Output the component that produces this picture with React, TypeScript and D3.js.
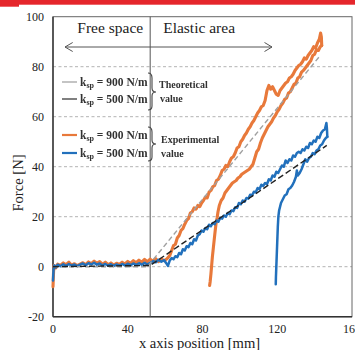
import React from "react";
import * as d3 from "d3";

const xTicks = [0, 40, 80, 120, 160];
const yTicks = [-20, 0, 20, 40, 60, 80, 100];
const gridValues = [0, 20, 40, 60, 80];
const dividerX = 52;

const theory900: [number, number][] = [[0, 0], [50.5, 0], [142.5, 84]];
const theory500: [number, number][] = [[0, 0], [52, 0.5], [146.5, 48.5]];

const orangeLoad: [number, number][] = [
  [0, -8], [0.3, -2], [0.6, 0.5], [1.5, -0.5], [2.5, 1], [4, 0.5], [5.5, 1.5], [7, 0.8], [8.5, 1.8], [10, 0.6],
  [11.5, 1.2], [13, 0.4], [14.5, 1.0], [16, 1.6], [17.5, 0.8], [19, 1.9], [20.5, 1.2], [22, 2.2], [23.5, 1.4], [25, 2.0],
  [26.5, 1.0], [28, 1.8], [29.5, 0.8], [31, 1.5], [32.5, 0.7], [34, 1.4], [35.5, 0.9], [37, 1.8], [38.5, 1.1], [40, 2.1],
  [41.5, 1.3], [43, 2.4], [44.5, 1.6], [46, 2.6], [47.5, 1.8], [49, 2.9], [50.5, 2.0], [52, 3.0], [53.5, 2.2], [55, 3.2],
  [56.5, 2.0], [58, 3.0], [59.5, 2.4], [61, 3.2], [62.5, 4.5], [63.5, 6.5], [64.5, 8.5], [65.5, 9.0], [66.5, 11.5], [67.5, 12.5],
  [68.5, 14.5], [69.5, 15.2], [70.5, 17.0], [71.5, 18.5], [72.5, 19.2], [73.5, 21.5], [74.5, 22.0], [75.5, 23.5], [76.5, 23.0], [77.5, 24.5],
  [78.5, 24.0], [79.5, 25.5], [80.5, 26.5], [81.5, 27.8], [82.5, 27.5], [83.5, 29.8], [84.5, 30.5], [85.5, 32.0], [86.5, 32.5], [87.5, 34.5],
  [88.5, 35.0], [89.5, 36.5], [90.5, 38.5], [91.5, 39.0], [92.5, 40.5], [93.5, 40.0], [94.5, 42.0], [95.5, 43.5], [96.5, 44.0], [97.5, 45.5],
  [98.5, 47.5], [99.5, 48.0], [100.5, 50.0], [101.5, 51.0], [102.5, 52.5], [103.5, 53.5], [104.5, 55.0], [105.5, 56.0], [106.5, 57.5], [107.5, 58.5],
  [108.5, 60.0], [109.5, 61.5], [110.5, 62.5], [111.5, 64.0], [112.5, 64.5], [113.5, 66.5], [114.5, 70.5], [115.5, 72.5], [116.5, 71.0], [117.5, 72.0],
  [118.5, 70.5], [119.5, 69.0], [120.5, 68.5], [121.5, 70.5], [122.5, 71.5], [123.5, 72.5], [124.5, 73.5], [125.5, 74.0], [126.5, 75.5], [127.5, 76.0],
  [128.5, 77.0], [129.5, 78.5], [130.5, 79.5], [131.5, 80.5], [132.5, 81.0], [133.5, 82.0], [134.5, 83.5], [135.5, 83.0], [136.5, 84.5], [137.5, 85.5],
  [138.5, 86.5], [139.5, 88.0], [140.5, 87.5], [141.5, 89.5], [142.5, 91.0], [143.2, 93.5], [143.6, 92.0], [143.8, 88.5],
];

const orangeUnload: [number, number][] = [
  [143.8, 88.5], [143, 88], [142, 86.5], [141, 86.8], [140, 85], [139, 84.5], [138, 82.5], [137, 81.5], [136, 80.5], [135, 79.5],
  [134, 78.5], [133, 77.8], [132, 76], [131, 75.5], [130, 73.5], [129, 73], [128, 71.5], [127, 70], [126, 69.5], [125, 67.5],
  [124, 67], [123, 65.5], [122, 64.5], [121, 63], [120, 62], [119, 60.5], [118, 59.5], [117, 58], [116, 57], [115, 56],
  [114, 54.5], [113, 53], [112, 51.5], [111, 49.5], [110, 47], [109, 46], [108, 43.5], [107, 41], [106, 40], [105, 39],
  [104, 38.5], [103, 38], [102, 37.5], [101, 37], [100, 36], [99, 35.5], [98, 34.5], [97, 34], [96, 33.5], [95, 32.5],
  [94, 31.5], [93, 30.5], [92, 29.5], [91, 27.5], [90, 26.5], [89, 24.5], [88.3, 22], [87.8, 19.5], [87.2, 17], [86.8, 14.5],
  [86.3, 11], [85.8, 7.5], [85.3, 4], [84.9, 0.5], [84.5, -3], [84.1, -6], [83.8, -7.5],
];

const blueLoad: [number, number][] = [
  [0, -5.5], [0.3, -1], [0.7, 0.5], [1.5, -0.3], [2.5, 0.8], [4, 0.2], [5.5, 1.0], [7, 0.3], [8.5, 1.1], [10, 0.4],
  [11.5, 0.9], [13, 0.2], [14.5, 0.8], [16, 1.3], [17.5, 0.6], [19, 1.4], [20.5, 0.9], [22, 1.6], [23.5, 0.8], [25, 1.3],
  [26.5, 0.5], [28, 1.1], [29.5, 0.4], [31, 1.0], [32.5, 0.3], [34, 0.9], [35.5, 0.4], [37, 1.1], [38.5, 0.5], [40, 1.2],
  [41.5, 0.6], [43, 1.3], [44.5, 0.7], [46, 1.4], [47.5, 0.8], [49, 1.6], [50.5, 0.9], [52, 1.5], [53.5, 2.2], [55, 1.8],
  [56.5, 2.8], [58, 2.0], [59.5, 2.6], [60.5, 1.5], [61.5, 0.3], [62.5, 2.5], [63.5, 3.5], [64.5, 3.0], [65.5, 4.2], [66.5, 3.8],
  [67.5, 5.5], [68.5, 5.0], [69.5, 7.0], [70.5, 6.5], [71.5, 8.2], [72.5, 7.8], [73.5, 9.5], [74.5, 9.0], [75.5, 11.0], [76.5, 10.5],
  [77.5, 12.5], [78.5, 13.0], [79.5, 14.5], [80.5, 14.0], [81.5, 15.5], [82.5, 15.0], [83.5, 16.8], [84.5, 16.2], [85.5, 17.5], [86.5, 17.0],
  [87.5, 18.5], [88.5, 18.0], [89.5, 19.5], [90.5, 19.2], [91.5, 20.5], [92.5, 20.0], [93.5, 21.5], [94.5, 21.0], [95.5, 22.5], [96.5, 22.2],
  [97.5, 23.8], [98.5, 23.5], [99.5, 25.5], [100.5, 25.0], [101.5, 26.5], [102.5, 26.0], [103.5, 27.5], [104.5, 27.2], [105.5, 28.8], [106.5, 28.5],
  [107.5, 30.0], [108.5, 29.8], [109.5, 31.5], [110.5, 31.0], [111.5, 32.8], [112.5, 32.3], [113.5, 33.5], [114.5, 33.0], [115.5, 35.0], [116.5, 34.5],
  [117.5, 36.5], [118.5, 36.0], [119.5, 38.0], [120.5, 37.5], [121.5, 39.0], [122.5, 40.5], [123.5, 40.0], [124.5, 42.5], [125.5, 41.5], [126.5, 43.0],
  [127.5, 42.5], [128.5, 44.5], [129.5, 44.0], [130.5, 45.5], [131.5, 46.0], [132.5, 45.5], [133.5, 47.0], [134.5, 46.5], [135.5, 48.0], [136.5, 47.5],
  [137.5, 49.5], [138.5, 49.0], [139.5, 50.5], [140.5, 50.0], [141.5, 52.0], [142.5, 51.5], [143.5, 53.5], [144.5, 54.5], [145.5, 55.0], [146.3, 57.5],
  [146.6, 55.0], [146.8, 52.0],
];

const blueUnload: [number, number][] = [
  [146.8, 52], [146, 51.5], [145, 50.5], [144, 49], [143, 48.5], [142, 47], [141, 46.5], [140, 45], [139, 45.5], [138, 44],
  [137, 43.5], [136, 42], [135, 43], [134, 41], [133, 39], [132, 37.5], [131, 36.5], [130.5, 38.5], [130, 36], [129, 34],
  [128, 32.5], [127, 31.5], [126, 31], [125, 29], [124, 28.5], [123, 27], [122, 25.5], [121.5, 24], [121, 22.5], [120.6, 20],
  [120.3, 16], [120.1, 12], [119.9, 8], [119.7, 4], [119.5, 0], [119.3, -4], [119.2, -7],
];

const ORANGE = "#E8793A";
const BLUE = "#2070BC";
const SERIF = "'Liberation Serif', 'DejaVu Serif', serif";

export default function App() {
  const W = 355;
  const H = 350;
  const left = 53;
  const right = 352;
  const top = 16.7;
  const bottom = 316.7;

  const x = d3.scaleLinear().domain([0, 160]).range([left, right]);
  const y = d3.scaleLinear().domain([-20, 100]).range([bottom, top]);
  const line = d3.line<[number, number]>().x((d) => x(d[0])).y((d) => y(d[1]));

  const divX = x(dividerX);

  return (
    <svg width={W} height={H} style={{ position: "absolute", left: 0, top: 0 }} fontFamily={SERIF}>
      <defs>
        <filter id="blur" x="-10%" y="-10%" width="120%" height="120%">
          <feGaussianBlur stdDeviation="0.75" />
        </filter>
        <filter id="soft" x="-5%" y="-5%" width="110%" height="110%">
          <feGaussianBlur stdDeviation="0.35" />
        </filter>
      </defs>
      <rect x={0} y={0} width={W} height={H} fill="#fff" />
      {/* top red bar */}
      <rect x={0} y={0} width={W} height={4.7} fill="#E5262B" />
      <rect x={0} y={0} width={19} height={6.7} fill="#E5262B" />

      {/* gridlines */}
      {gridValues.map((v) => (
        <line key={v} x1={left} x2={right} y1={y(v)} y2={y(v)} stroke="#aaa" strokeWidth={0.9} strokeDasharray="3,2.5" />
      ))}

      {/* plot box */}
      <rect x={left} y={top} width={right - left} height={bottom - top} fill="none" stroke="#666" strokeWidth={1} />
      <line x1={left} x2={left} y1={top} y2={bottom} stroke="#333" strokeWidth={1.4} />
      <line x1={left} x2={right} y1={bottom} y2={bottom} stroke="#333" strokeWidth={1.4} />

      {/* divider */}
      <line x1={divX} x2={divX} y1={top} y2={bottom} stroke="#555" strokeWidth={1} />

      {/* region labels and arrow */}
      <text x={divX - 7} y={33} fontSize={15.5} textAnchor="end" fill="#222">Free space</text>
      <text x={divX + 13} y={33} fontSize={15.5} fill="#222">Elastic area</text>
      <line x1={65} x2={272} y1={47} y2={47} stroke="#555" strokeWidth={1} />
      <polyline points="72.7,42.5 65,47 72.7,51.5" fill="none" stroke="#555" strokeWidth={1} />
      <polyline points="264.5,42.5 272,47 264.5,51.5" fill="none" stroke="#555" strokeWidth={1} />

      {/* experimental curves */}
      <g filter="url(#soft)" strokeLinejoin="round" strokeLinecap="round" fill="none">
        <path d={line(orangeLoad) ?? ""} stroke={ORANGE} strokeWidth={3.1} />
        <path d={line(orangeUnload) ?? ""} stroke={ORANGE} strokeWidth={3.1} />
        <path d={line(blueLoad) ?? ""} stroke={BLUE} strokeWidth={2.5} />
        <path d={line(blueUnload) ?? ""} stroke={BLUE} strokeWidth={2.5} />
      </g>

      {/* theoretical lines */}
      <path d={line(theory900) ?? ""} fill="none" stroke="#a0a0a0" strokeWidth={1.4} strokeDasharray="5,3" />
      <path d={line(theory500) ?? ""} fill="none" stroke="#222" strokeWidth={1.4} strokeDasharray="6,3" />

      {/* legend (blurred in the reference) */}
      <g filter="url(#blur)" fill="#333">
        <line x1={62} x2={77} y1={82} y2={82} stroke="#c4c4c4" strokeWidth={2} />
        <line x1={62} x2={77} y1={99} y2={99} stroke="#808080" strokeWidth={2} />
        <line x1={62} x2={77} y1={135} y2={135} stroke={ORANGE} strokeWidth={2.2} />
        <line x1={62} x2={77} y1={153} y2={153} stroke={BLUE} strokeWidth={2.2} />
        {[
          { yy: 82, label: "900" },
          { yy: 99, label: "500" },
          { yy: 135, label: "900" },
          { yy: 153, label: "500" },
        ].map((r, i) => (
          <text key={i} x={80} y={r.yy + 3.5} fontSize={11.5} fontWeight="bold">
            k<tspan fontSize={8} dy={2.5}>sp</tspan>
            <tspan dy={-2.5}> = {r.label} N/m</tspan>
          </text>
        ))}
        <path d="M148,73 Q152,73 152,78 L152,88 Q152,92 156,92 Q152,92 152,96 L152,106 Q152,110 148,110" fill="none" stroke="#444" strokeWidth={1.1} />
        <path d="M148,127 Q152,127 152,132 L152,140 Q152,144 156,144 Q152,144 152,148 L152,157 Q152,161 148,161" fill="none" stroke="#444" strokeWidth={1.1} />
        <text x={159} y={88} fontSize={10} fontWeight="bold">Theoretical</text>
        <text x={160} y={102} fontSize={10} fontWeight="bold">value</text>
        <text x={161} y={143} fontSize={10} fontWeight="bold">Experimental</text>
        <text x={161} y={157} fontSize={10} fontWeight="bold">value</text>
      </g>

      {/* axes tick labels */}
      {yTicks.map((t) => (
        <text key={t} x={44} y={y(t) + 4} fontSize={12} textAnchor="end" fill="#222">{t}</text>
      ))}
      {xTicks.map((t) => (
        <text key={t} x={x(t)} y={333} fontSize={12} textAnchor="middle" fill="#222">{t}</text>
      ))}

      {/* axis titles */}
      <text x={(left + right) / 2 - 3} y={347.5} fontSize={14.6} textAnchor="middle" fill="#222">x axis position [mm]</text>
      <text transform={`translate(23,183) rotate(-90)`} fontSize={14.6} textAnchor="middle" fill="#222">Force  [N]</text>
    </svg>
  );
}
